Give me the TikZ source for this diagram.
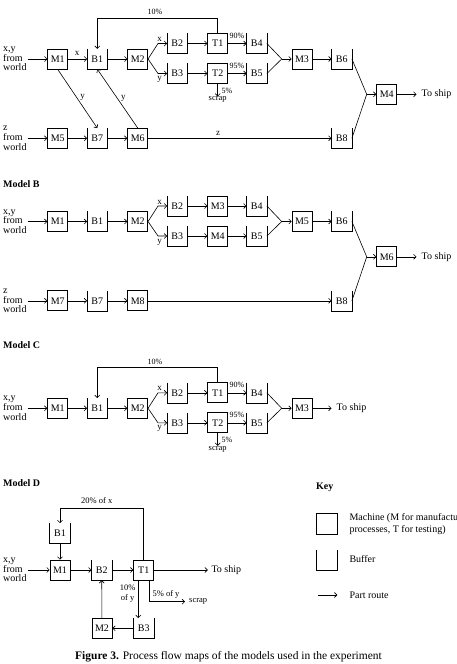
\documentclass[tikz,border=0pt]{standalone}
\usepackage{fontspec}
\setmainfont{Liberation Serif}
\usetikzlibrary{arrows.meta,calc}
\begin{document}
\begin{tikzpicture}[x=1pt,y=-1pt,
  every node/.style={font=\fontsize{10}{10}\selectfont},
  mach/.style={draw,line width=0.7pt,minimum width=20pt,minimum height=20pt,inner sep=0pt},
  buf/.style={minimum width=20pt,minimum height=20pt,inner sep=0pt},
  arr/.style={line width=0.6pt,-{Straight Barb[length=2.5pt,width=5pt]}},
  ln/.style={line width=0.6pt},
  src/.style={align=left,anchor=west,inner sep=1pt,font=\fontsize{10}{9.7}\selectfont},
  lbl/.style={inner sep=0pt,font=\fontsize{8}{8}\selectfont},
  xy/.style={inner sep=0pt,font=\fontsize{9}{9}\selectfont},
  ttl/.style={anchor=west,inner sep=0pt,font=\fontsize{10}{10}\selectfont\bfseries},
  ship/.style={anchor=west,inner xsep=5pt,inner ysep=0pt}
]
\useasboundingbox (0,0) rectangle (457,664);

% ================= Model A =================
\node[src] (aIn) at (2,59) {x,y\\from\\world};
\node[mach] (aM1) at (57.7,59) {M1};
\node[buf] (aB1) at (97.3,59) {B1};
\node[mach] (aM2) at (137.7,59) {M2};
\node[buf] (aB2) at (177.3,43.5) {B2};
\node[mach] (aT1) at (217.7,43.5) {T1};
\node[buf] (aB3) at (177.3,73.5) {B3};
\node[mach] (aT2) at (217.7,73.5) {T2};
\node[buf] (aB4) at (256.7,43.5) {B4};
\node[buf] (aB5) at (256.7,73.5) {B5};
\node[mach] (aM3) at (302,59) {M3};
\node[buf] (aB6) at (341.7,59) {B6};
\node[mach] (aM4) at (386.7,94.3) {M4};
\node[ship] (aShip) at (416.5,94.3) {To ship};
\node[buf] (aB8) at (341.7,138.3) {B8};
\node[src] (aIn2) at (2,138.3) {z\\from\\world};
\node[mach] (aM5) at (57.7,138.3) {M5};
\node[buf] (aB7) at (97.3,138.3) {B7};
\node[mach] (aM6) at (137.7,138.3) {M6};
\node[lbl,anchor=north,font=\fontsize{8.5}{8.5}\selectfont] (aScrap) at (217.7,96.5) {scrap};

\coordinate (aSx) at (158,43.5);
\coordinate (aSy) at (158,73.5);
\coordinate (aL) at (97.3,18.3);
\coordinate (aJ1) at (281.7,59);
\coordinate (aJ2) at (366.7,94.3);

\draw[arr] (aIn.east) -- (aM1);
\draw[arr] (aM1) -- (aB1);
\node[xy] (aLx) at (77,53) {x};
\draw[arr] (aB1) -- (aM2);
\draw[arr] (aM2.east) -- (aSx) -- (aB2);
\draw[arr] (aM2.east) -- (aSy) -- (aB3);
\node[xy] (aLx2) at (159.5,39.5) {x};
\node[xy] (aLy2) at (159.5,79.5) {y};
\draw[arr] (aB2) -- (aT1);
\draw[arr] (aB3) -- (aT2);
\draw[arr] (aT1.north) |- (aL) -- (aB1.north);
\node[lbl] (aP10) at (155,12.3) {10\%};
\draw[arr] (aT1) -- (aB4);
\draw[arr] (aT2) -- (aB5);
\node[lbl] (aP90) at (237,35.5) {90\%};
\node[lbl] (aP95) at (237,65.5) {95\%};
\draw[arr] (aT2) -- (aScrap);
\node[lbl] (aP5) at (227,90.7) {5\%};
\draw[ln] (aB4.east) -- (aJ1) -- (aB5.east);
\draw[arr] (aJ1) -- (aM3);
\draw[arr] (aM3) -- (aB6);
\draw[ln] (aB6.east) -- (aJ2) -- (aB8.east);
\draw[arr] (aJ2) -- (aM4);
\draw[arr] (aM4) -- (aShip);
\draw[arr] (aIn2.east) -- (aM5);
\draw[arr] (aM5) -- (aB7);
\draw[arr] (aB7) -- (aM6);
\draw[arr] (aM6) -- (aB8);
\node[xy] (aLz) at (218,133) {z};
\draw[arr] (aM1.south) -- (aB7.north);
\node[xy] (aLy3) at (82.7,97.3) {y};
\draw[arr] (aM6.north) -- (aB1.south);
\node[xy] (aLy4) at (123.3,98.3) {y};

\foreach \n in {aB1,aB2,aB3,aB4,aB5,aB6,aB7,aB8}
  \draw[line width=0.7pt] (\n.north west) -- (\n.south west) -- (\n.south east) -- (\n.north east);

% ================= Model B =================
\begin{scope}[shift={(0,162.5)}]
\node[ttl] (bTitle) at (3,21.8) {Model B};
\node[src] (bIn) at (2,59) {x,y\\from\\world};
\node[mach] (bM1) at (57.7,59) {M1};
\node[buf] (bB1) at (97.3,59) {B1};
\node[mach] (bM2) at (137.7,59) {M2};
\node[buf] (bB2) at (177.3,43.5) {B2};
\node[mach] (bM3) at (217.7,43.5) {M3};
\node[buf] (bB3) at (177.3,73.5) {B3};
\node[mach] (bM4) at (217.7,73.5) {M4};
\node[buf] (bB4) at (256.7,43.5) {B4};
\node[buf] (bB5) at (256.7,73.5) {B5};
\node[mach] (bM5) at (302,59) {M5};
\node[buf] (bB6) at (341.7,59) {B6};
\node[mach] (bM6) at (386.7,94.3) {M6};
\node[ship] (bShip) at (416.5,94.3) {To ship};
\node[buf] (bB8) at (341.7,138.3) {B8};
\node[src] (bIn2) at (2,138.3) {z\\from\\world};
\node[mach] (bM7) at (57.7,138.3) {M7};
\node[buf] (bB7) at (97.3,138.3) {B7};
\node[mach] (bM8) at (137.7,138.3) {M8};

\coordinate (bSx) at (158,43.5);
\coordinate (bSy) at (158,73.5);
\coordinate (bJ1) at (281.7,59);
\coordinate (bJ2) at (366.7,94.3);

\draw[arr] (bIn.east) -- (bM1);
\draw[arr] (bM1) -- (bB1);
\draw[arr] (bB1) -- (bM2);
\draw[arr] (bM2.east) -- (bSx) -- (bB2);
\draw[arr] (bM2.east) -- (bSy) -- (bB3);
\node[xy] (bLx2) at (159.5,39.5) {x};
\node[xy] (bLy2) at (159.5,79.5) {y};
\draw[arr] (bB2) -- (bM3);
\draw[arr] (bB3) -- (bM4);
\draw[arr] (bM3) -- (bB4);
\draw[arr] (bM4) -- (bB5);
\draw[ln] (bB4.east) -- (bJ1) -- (bB5.east);
\draw[arr] (bJ1) -- (bM5);
\draw[arr] (bM5) -- (bB6);
\draw[ln] (bB6.east) -- (bJ2) -- (bB8.east);
\draw[arr] (bJ2) -- (bM6);
\draw[arr] (bM6) -- (bShip);
\draw[arr] (bIn2.east) -- (bM7);
\draw[arr] (bM7) -- (bB7);
\draw[arr] (bB7) -- (bM8);
\draw[arr] (bM8) -- (bB8);
\foreach \n in {bB1,bB2,bB3,bB4,bB5,bB6,bB7,bB8}
  \draw[line width=0.7pt] (\n.north west) -- (\n.south west) -- (\n.south east) -- (\n.north east);
\end{scope}

% ================= Model C =================
\begin{scope}[shift={(0,349.3)}]
\node[ttl] (cTitle) at (3,-4.3) {Model C};
\node[src] (cIn) at (2,59) {x,y\\from\\world};
\node[mach] (cM1) at (57.7,59) {M1};
\node[buf] (cB1) at (97.3,59) {B1};
\node[mach] (cM2) at (137.7,59) {M2};
\node[buf] (cB2) at (177.3,43.5) {B2};
\node[mach] (cT1) at (217.7,43.5) {T1};
\node[buf] (cB3) at (177.3,73.5) {B3};
\node[mach] (cT2) at (217.7,73.5) {T2};
\node[buf] (cB4) at (256.7,43.5) {B4};
\node[buf] (cB5) at (256.7,73.5) {B5};
\node[mach] (cM3) at (302,59) {M3};
\node[ship] (cShip) at (331.5,59) {To ship};
\node[lbl,anchor=north,font=\fontsize{8.5}{8.5}\selectfont] (cScrap) at (217.7,96.5) {scrap};

\coordinate (cSx) at (158,43.5);
\coordinate (cSy) at (158,73.5);
\coordinate (cL) at (97.3,18.3);
\coordinate (cJ1) at (281.7,59);

\draw[arr] (cIn.east) -- (cM1);
\draw[arr] (cM1) -- (cB1);
\draw[arr] (cB1) -- (cM2);
\draw[arr] (cM2.east) -- (cSx) -- (cB2);
\draw[arr] (cM2.east) -- (cSy) -- (cB3);
\node[xy] (cLx2) at (159.5,39.5) {x};
\node[xy] (cLy2) at (159.5,79.5) {y};
\draw[arr] (cB2) -- (cT1);
\draw[arr] (cB3) -- (cT2);
\draw[arr] (cT1.north) |- (cL) -- (cB1.north);
\node[lbl] (cP10) at (155,12.3) {10\%};
\draw[arr] (cT1) -- (cB4);
\draw[arr] (cT2) -- (cB5);
\node[lbl] (cP90) at (237,35.5) {90\%};
\node[lbl] (cP95) at (237,65.5) {95\%};
\draw[arr] (cT2) -- (cScrap);
\node[lbl] (cP5) at (227,90.7) {5\%};
\draw[ln] (cB4.east) -- (cJ1) -- (cB5.east);
\draw[arr] (cJ1) -- (cM3);
\draw[arr] (cM3) -- (cShip);
\foreach \n in {cB1,cB2,cB3,cB4,cB5}
  \draw[line width=0.7pt] (\n.north west) -- (\n.south west) -- (\n.south east) -- (\n.north east);
\end{scope}

% ================= Model D =================
\node[ttl] (dTitle) at (3,483.3) {Model D};
\node[src] (dIn) at (2,570) {x,y\\from\\world};
\node[buf] (dB1) at (60,533.3) {B1};
\node[mach] (dM1) at (60,570) {M1};
\node[buf] (dB2) at (101.7,570) {B2};
\node[mach] (dT1) at (143.7,570) {T1};
\node[ship,inner xsep=3.5pt] (dShip) at (207.8,570) {To ship};
\node[buf] (dB3) at (143.7,628.3) {B3};
\node[mach] (dM2) at (102,628.3) {M2};
\node[lbl,anchor=west,inner xsep=4pt,font=\fontsize{8.5}{8.5}\selectfont] (dScrap) at (185,601.7) {scrap};

\coordinate (dL) at (60,508.3);

\draw[arr] (dIn.east) -- (dM1);
\draw[arr] (dT1.north) |- (dL) -- (dB1.north);
\node[lbl,font=\fontsize{8.5}{8.5}\selectfont] (dP20) at (96.7,500.5) {20\% of x};
\draw[arr] (dB1) -- (dM1);
\draw[arr] (dM1) -- (dB2);
\draw[arr] (dB2) -- (dT1);
\draw[arr] (dT1) -- (dShip);
\draw[arr] ([xshift=-5.4pt]dT1.south) -- ([xshift=-5.4pt]dB3.north);
\node[lbl,align=center,font=\fontsize{8.5}{10}\selectfont] (dP10) at (127.7,593.3) {10\%\\of y};
\draw[arr] ([xshift=5.3pt]dT1.south) |- (dScrap);
\node[lbl,font=\fontsize{8.5}{8.5}\selectfont] (dP5) at (166,594.5) {5\% of y};
\draw[arr] (dB3) -- (dM2);
\draw[arr] (dM2) -- (dB2);
\foreach \n in {dB1,dB2,dB3}
  \draw[line width=0.7pt] (\n.north west) -- (\n.south west) -- (\n.south east) -- (\n.north east);

% ================= Key =================
\node[ttl] (kTitle) at (316,487.3) {Key};
\node[mach,minimum width=20.6pt,minimum height=21pt] (kMach) at (327,523.8) {};
\node[anchor=west,align=left,inner sep=0pt,font=\fontsize{10}{11.7}\selectfont] (kMachT) at (349.3,524.2) {Machine (M for manufacturing\\processes, T for testing)};
\node[buf,minimum width=20.6pt,minimum height=20.6pt] (kBuf) at (327,560.3) {};
\draw[line width=0.7pt] (kBuf.north west) -- (kBuf.south west) -- (kBuf.south east) -- (kBuf.north east);
\node[anchor=west,inner sep=0pt] (kBufT) at (349.3,559.3) {Buffer};
\coordinate (kA1) at (318.3,595);
\coordinate (kA2) at (337.3,595);
\draw[arr] (kA1) -- (kA2);
\node[anchor=west,inner sep=0pt] (kArrT) at (349.3,595) {Part route};

% ================= Caption =================
\node[inner sep=0pt,font=\fontsize{11.5}{11.5}\selectfont] (cap) at (228.5,657) {\textbf{Figure 3.} Process flow maps of the models used in the experiment};
\end{tikzpicture}
\end{document}
